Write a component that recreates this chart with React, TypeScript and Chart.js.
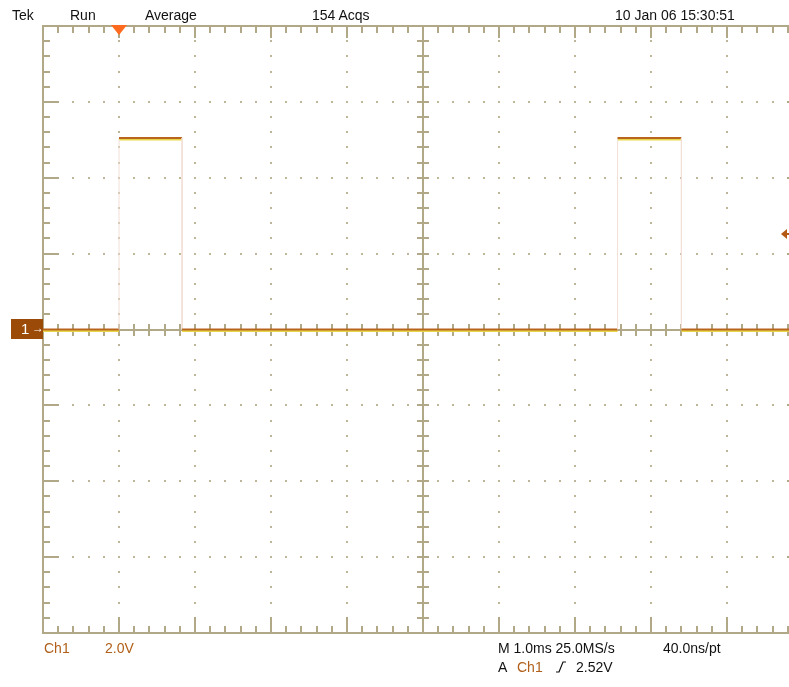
import React, { useEffect, useRef } from "react";
import { Chart, registerables } from "chart.js";
Chart.register(...registerables);

// Time in ms relative to trigger, voltage in V (Ch1, 2.0 V/div, 1.0 ms/div)
const timeMs = [-1, 0, 0, 0.83, 0.83, 6.56, 6.56, 7.4, 7.4, 9];
const volts = [0, 0, 5.05, 5.05, 0, 0, 5.05, 5.05, 0, 0];
const X_MIN = -1;
const X_MAX = 9;
const Y_MIN = -8;
const Y_MAX = 8;
const triggerTime = 0;
const triggerLevel = 2.52;

const headerLabels = [
  { text: "Tek", left: 12 },
  { text: "Run", left: 70 },
  { text: "Average", left: 145 },
  { text: "154 Acqs", left: 312 },
  { text: "10 Jan 06 15:30:51", left: 615 },
];

const GRID = "#b0a886";
const DOT = "#bdb699";
const TRACE = "#b8641e";
const EDGE = "#f2e0d8";
const GLOW = "#e8d648";

const graticule = {
  id: "graticule",
  beforeDatasetsDraw(chart: any) {
    const { ctx, chartArea: a, scales } = chart;
    const xs = scales.x;
    const ys = scales.y;
    const divW = (a.right - a.left) / 10;
    const divH = (a.bottom - a.top) / 8;
    const L = Math.round(a.left), R = Math.round(a.right), T = Math.round(a.top), B = Math.round(a.bottom);
    const cx = Math.round(xs.getPixelForValue((X_MIN + X_MAX) / 2));
    const cy = Math.round(ys.getPixelForValue((Y_MIN + Y_MAX) / 2));
    ctx.save();
    ctx.fillStyle = DOT;
    for (let i = 1; i < 10; i++) {
      if (i === 5) continue;
      const px = Math.round(a.left + i * divW);
      for (let j = 1; j < 40; j++) {
        const py = Math.round(a.top + (j * divH) / 5);
        ctx.fillRect(px - 1, py - 1, 2, 2);
      }
    }
    for (let k = 1; k < 8; k++) {
      if (k === 4) continue;
      const py = Math.round(a.top + k * divH);
      for (let i = 1; i < 50; i++) {
        const px = Math.round(a.left + (i * divW) / 5);
        ctx.fillRect(px - 1, py - 1, 2, 2);
      }
    }
    ctx.strokeStyle = GRID;
    ctx.lineWidth = 2;
    ctx.beginPath();
    ctx.rect(L, T, R - L, B - T);
    ctx.moveTo(cx, T);
    ctx.lineTo(cx, B);
    ctx.moveTo(L, cy);
    ctx.lineTo(R, cy);
    for (let i = 1; i < 50; i++) {
      const px = Math.round(a.left + (i * divW) / 5);
      const major = i % 5 === 0;
      ctx.moveTo(px, T);
      ctx.lineTo(px, T + (major ? 12 : 7));
      ctx.moveTo(px, B);
      ctx.lineTo(px, B - (major ? 16 : 7));
      ctx.moveTo(px, cy - 6);
      ctx.lineTo(px, cy + 6);
    }
    for (let j = 1; j < 40; j++) {
      const py = Math.round(a.top + (j * divH) / 5);
      const major = j % 5 === 0;
      ctx.moveTo(L, py);
      ctx.lineTo(L + (major ? 16 : 7), py);
      ctx.moveTo(R, py);
      ctx.lineTo(R - (major ? 16 : 7), py);
      ctx.moveTo(cx - 6, py);
      ctx.lineTo(cx + 6, py);
    }
    ctx.stroke();
    ctx.restore();
  },
  beforeDatasetDraw(chart: any, args: any) {
    const ctx = chart.ctx;
    ctx.save();
    if (args.index === 0) ctx.translate(0, 1.5);
  },
  afterDatasetDraw(chart: any) {
    chart.ctx.restore();
  },
  afterDatasetsDraw(chart: any) {
    const { ctx, chartArea: a, scales } = chart;
    const tx = scales.x.getPixelForValue(triggerTime);
    const ly = Math.round(scales.y.getPixelForValue(triggerLevel));
    ctx.save();
    ctx.fillStyle = "#ff6a1e";
    ctx.beginPath();
    ctx.moveTo(tx - 8, a.top - 1);
    ctx.lineTo(tx + 8, a.top - 1);
    ctx.lineTo(tx, a.top + 9);
    ctx.closePath();
    ctx.fill();
    ctx.fillStyle = "#b45a14";
    ctx.beginPath();
    ctx.moveTo(781, ly);
    ctx.lineTo(787, ly - 5);
    ctx.lineTo(787, ly + 5);
    ctx.closePath();
    ctx.fill();
    ctx.fillRect(786, ly - 1, 4, 2);
    ctx.restore();
  },
};

const textBase: React.CSSProperties = {
  position: "absolute",
  fontFamily: "'Liberation Sans', Arial, sans-serif",
  fontSize: 14,
  lineHeight: "14px",
  whiteSpace: "pre",
  color: "#111",
};

const isVertical = (c: any) => c.p0.parsed.x === c.p1.parsed.x;

export default function App() {
  const ref = useRef<HTMLCanvasElement>(null);
  useEffect(() => {
    if (!ref.current) return;
    const points = timeMs.map((t, i) => ({ x: t, y: volts[i] }));
    const chart = new Chart(ref.current, {
      type: "line",
      data: {
        datasets: [
          {
            label: "Ch1 glow",
            data: points,
            borderColor: GLOW,
            borderWidth: 2,
            pointRadius: 0,
            tension: 0,
            fill: false,
            clip: false as any,
            order: 2,
            segment: {
              borderColor: (c: any) => (isVertical(c) ? "rgba(0,0,0,0)" : GLOW),
            },
          },
          {
            label: "Ch1",
            data: points,
            borderColor: TRACE,
            borderWidth: 2,
            pointRadius: 0,
            tension: 0,
            fill: false,
            clip: false as any,
            order: 1,
            segment: {
              borderColor: (c: any) => (isVertical(c) ? EDGE : TRACE),
              borderWidth: (c: any) => (isVertical(c) ? 1 : 2),
            },
          },
        ],
      },
      options: {
        responsive: false,
        animation: false,
        devicePixelRatio: 1,
        layout: { padding: { left: 43, top: 26, right: 27, bottom: 54 } },
        scales: {
          x: { type: "linear", min: X_MIN, max: X_MAX, display: false },
          y: { type: "linear", min: Y_MIN, max: Y_MAX, display: false },
        },
        plugins: {
          legend: { display: false },
          tooltip: { enabled: false },
          title: { display: false },
        },
        events: [],
      },
      plugins: [graticule],
    });
    return () => chart.destroy();
  }, []);

  return (
    <div
      style={{
        position: "fixed",
        left: 0,
        top: 0,
        width: 789,
        height: 687,
        overflow: "hidden",
        background: "#fff",
      }}
    >
      <canvas ref={ref} width={830} height={687} style={{ position: "absolute", left: 0, top: 0 }} />
      {headerLabels.map((h) => (
        <span key={h.text} style={{ ...textBase, left: h.left, top: 8 }}>
          {h.text}
        </span>
      ))}
      <div
        style={{
          position: "absolute",
          left: 11,
          top: 319,
          width: 32,
          height: 20,
          background: "#9c4a08",
          color: "#fff",
          fontFamily: "'Liberation Sans', Arial, sans-serif",
          fontSize: 15,
          lineHeight: "20px",
          whiteSpace: "pre",
        }}
      >
        <span style={{ position: "absolute", left: 10, top: 0 }}>1</span>
        <span style={{ position: "absolute", left: 21, top: -1, fontSize: 12, fontWeight: "bold" }}>→</span>
      </div>
      <span style={{ ...textBase, left: 44, top: 641, color: "#b0601a" }}>Ch1</span>
      <span style={{ ...textBase, left: 105, top: 641, color: "#b0601a" }}>2.0V</span>
      <span style={{ ...textBase, left: 498, top: 641 }}>M 1.0ms 25.0MS/s</span>
      <span style={{ ...textBase, left: 663, top: 641 }}>40.0ns/pt</span>
      <span style={{ ...textBase, left: 498, top: 660 }}>A</span>
      <span style={{ ...textBase, left: 517, top: 660, color: "#b0601a" }}>Ch1</span>
      <svg width={10} height={12} style={{ position: "absolute", left: 556, top: 661 }}>
        <polyline points="0,11 3,11 7,1 10,1" fill="none" stroke="#111" strokeWidth={1.2} />
      </svg>
      <span style={{ ...textBase, left: 576, top: 660 }}>2.52V</span>
    </div>
  );
}
